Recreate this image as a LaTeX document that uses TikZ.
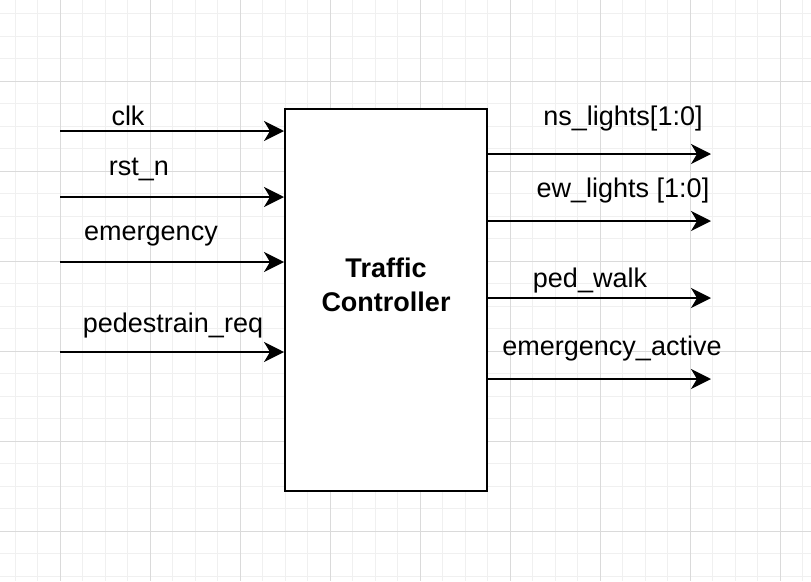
\documentclass[tikz,border=0pt]{standalone}
\usepackage{fontspec}
\setmainfont{Liberation Sans}
\usetikzlibrary{arrows.meta}
\definecolor{minorgrid}{HTML}{F0F0F0}
\definecolor{majorgrid}{HTML}{DADADA}
\tikzset{
  sig/.style={line width=2pt,-{Stealth[length=20pt,width=20pt,inset=6pt]}},
  lbl/.style={anchor=base,inner sep=0pt,font=\fontsize{27}{32}\selectfont},
  blk/.style={draw,line width=2pt,fill=white,minimum width=202pt,minimum height=382pt,inner sep=0pt,align=center,font=\fontsize{27}{33.5}\selectfont\bfseries}
}
\begin{document}
\begin{tikzpicture}[x=1pt,y=-1pt]
\useasboundingbox (0,0) rectangle (811,581);
\fill[white] (0,0) rectangle (811,581);
% grid
\foreach \i in {0,...,36} {
  \draw[minorgrid,line width=1pt] (15+22.5*\i,0) -- (15+22.5*\i,581);
}
\foreach \j in {0,...,25} {
  \draw[minorgrid,line width=1pt] (0,13.5+22.5*\j) -- (811,13.5+22.5*\j);
}
\foreach \i in {0,...,8} {
  \draw[majorgrid,line width=1pt] (60+90*\i,0) -- (60+90*\i,581);
}
\foreach \j in {0,...,5} {
  \draw[majorgrid,line width=1pt] (0,81+90*\j) -- (811,81+90*\j);
}
% block
\node[blk] (tc) at (386,300) {};
\node[font=\fontsize{27}{33.5}\selectfont\bfseries,anchor=base] (t1) at (386,277) {Traffic};
\node[font=\fontsize{27}{33.5}\selectfont\bfseries,anchor=base] (t2) at (386,311) {Controller};
% inputs
\coordinate (i1) at (60,131);
\coordinate (i2) at (60,197);
\coordinate (i3) at (60,262);
\coordinate (i4) at (60,352);
\draw[sig] (i1) -- (tc.west |- i1);
\draw[sig] (i2) -- (tc.west |- i2);
\draw[sig] (i3) -- (tc.west |- i3);
\draw[sig] (i4) -- (tc.west |- i4);
\node[lbl] (l1) at (128,125) {clk};
\node[lbl] (l2) at (139,175) {rst\_n};
\node[lbl] (l3) at (151,240) {emergency};
\node[lbl] (l4) at (173,332) {pedestrain\_req};
% outputs
\coordinate (o1) at (711,154);
\coordinate (o2) at (711,221);
\coordinate (o3) at (711,298);
\coordinate (o4) at (711,379);
\draw[sig] (tc.east |- o1) -- (o1);
\draw[sig] (tc.east |- o2) -- (o2);
\draw[sig] (tc.east |- o3) -- (o3);
\draw[sig] (tc.east |- o4) -- (o4);
\node[lbl] (m1) at (623,125) {ns\_lights[1:0]};
\node[lbl] (m2) at (623,197) {ew\_lights [1:0]};
\node[lbl] (m3) at (590,287) {ped\_walk};
\node[lbl] (m4) at (612,355) {emergency\_active};
\end{tikzpicture}
\end{document}
